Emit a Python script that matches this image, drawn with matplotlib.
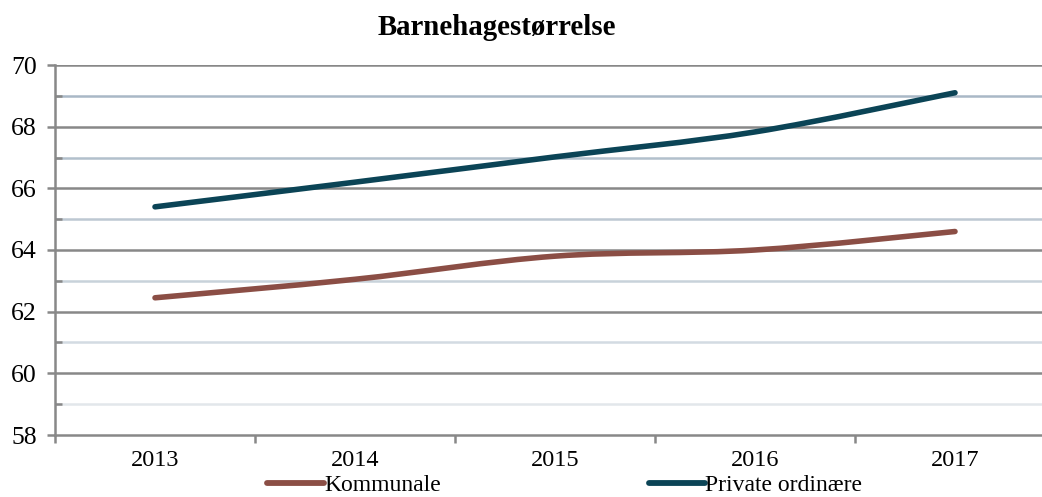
import matplotlib
matplotlib.use("Agg")
import matplotlib.pyplot as plt
from matplotlib.path import Path
from matplotlib.patches import PathPatch
from matplotlib.lines import Line2D
import numpy as np

years = ["2013", "2014", "2015", "2016", "2017"]
kommunale = [62.45, 63.05, 63.8, 64.0, 64.6]
private = [65.4, 66.2, 67.02, 67.83, 69.1]
series_names = ["Kommunale", "Private ordinære"]
series_colors = ["#8B4E45", "#0B4456"]
title = "Barnehagestørrelse"

plt.rcParams['font.family'] = ['Liberation Serif', 'DejaVu Serif']

fig = plt.figure(figsize=(10.42, 4.97), dpi=100)
ax = fig.add_axes([55/1042, 62/497, 1000/1042, 370/497])

def smooth_path(xs, ys):
    pts = np.column_stack([xs, ys]).astype(float)
    n = len(pts)
    verts = [pts[0]]
    codes = [Path.MOVETO]
    for i in range(n - 1):
        p0 = pts[i - 1] if i > 0 else pts[i]
        p1 = pts[i]
        p2 = pts[i + 1]
        p3 = pts[i + 2] if i + 2 < n else pts[i + 1]
        c1 = p1 + (p2 - p0) / 6.0
        c2 = p2 - (p3 - p1) / 6.0
        verts += [c1, c2, p2]
        codes += [Path.CURVE4] * 3
    return Path(verts, codes)

x = np.arange(len(years))
for vals, col in zip([kommunale, private], series_colors):
    patch = PathPatch(smooth_path(x, vals), facecolor='none', edgecolor=col,
                      lw=4.0, capstyle='round', joinstyle='round', zorder=3)
    ax.add_patch(patch)

ax.set_xlim(-0.5, len(years) - 0.5)
ax.set_ylim(58, 70)

# gridlines
major_vals = [58, 60, 62, 64, 66, 68, 70]
minor_vals = [59, 61, 63, 65, 67, 69]
minor_cols = {69: "#a9b8c6", 67: "#b2c0cc", 65: "#bdc8d2", 63: "#c8d2da", 61: "#d3dbe2", 59: "#e2e7eb"}
for v in major_vals[1:]:
    ax.axhline(v, color="#888888", lw=1.8, zorder=1)
for v in minor_vals:
    ax.axhline(v, color=minor_cols[v], lw=1.8, zorder=1)

ax.set_yticks(major_vals)
ax.set_yticks(minor_vals, minor=True)
ax.tick_params(axis='y', which='major', direction='out', length=6, width=1.8,
               color="#888888", labelsize=18.5, pad=7)
ax.tick_params(axis='y', which='minor', direction='in', length=5, width=1.8,
               color="#888888")

ax.set_xticks(np.arange(-0.5, len(years)), labels=[""] * (len(years) + 1))
ax.set_xticks(x, labels=years, minor=True)
ax.tick_params(axis='x', which='major', direction='out', length=6, width=1.8,
               color="#888888")
ax.tick_params(axis='x', which='minor', length=0, labelsize=17.5, pad=11)

for s in ['top', 'right']:
    ax.spines[s].set_visible(False)
for s in ['left', 'bottom']:
    ax.spines[s].set_color("#888888")
    ax.spines[s].set_linewidth(1.8)

fig.text(0.477, 0.945, title, ha='center', va='center', fontsize=20.8, fontweight='bold')

handles = [Line2D([], [], color=c, lw=4.2, solid_capstyle='round') for c in series_colors]
fig.legend(handles, series_names, loc='lower center', bbox_to_anchor=(0.542, 0.0),
           ncol=2, frameon=False, fontsize=17, handlelength=2.4, handletextpad=0.0,
           columnspacing=8.8, borderpad=0.05, borderaxespad=0.0)

fig.savefig("out.png", dpi=100)
